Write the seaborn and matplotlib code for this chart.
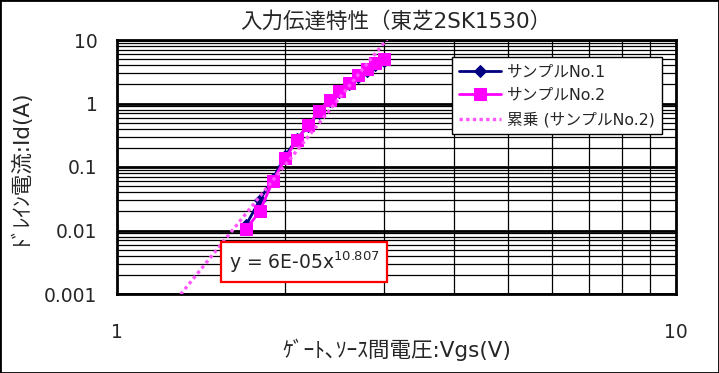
import numpy as np
import pandas as pd
import matplotlib
matplotlib.use("Agg")
import matplotlib.pyplot as plt
import matplotlib.ticker as mticker
import seaborn as sns

# values
vgs = [1.7, 1.8, 1.9, 2.0, 2.1, 2.2, 2.3, 2.4, 2.5, 2.6, 2.7, 2.8, 2.9, 3.0]
id_sample1 = [0.012, 0.03, 0.065, 0.15, 0.28, 0.45, 0.72, 1.1, 1.5, 2.0, 2.6, 3.2, 4.0, 4.6]
id_sample2 = [0.0104, 0.02, 0.06, 0.137, 0.27, 0.46, 0.77, 1.14, 1.6, 2.13, 2.8, 3.45, 4.3, 5.0]
trend_text = "10.807"
x_ticks = [1, 10]
x_tick_labels = ["1", "10"]
y_ticks = [0.001, 0.01, 0.1, 1, 10]
y_tick_labels = ["0.001", "0.01", "0.1", "1", "10"]

sns.set_style("white")
plt.rcParams['font.family'] = ['DejaVu Sans', 'Noto Sans CJK JP']

fig = plt.figure(figsize=(7.19, 3.73), dpi=100)
ax = fig.add_axes([117/719, 1-294/373, 559/719, 254/373])

df = pd.DataFrame({'vgs': vgs, 's1': id_sample1, 's2': id_sample2})

sns.lineplot(data=df, x='vgs', y='s1', ax=ax, color='#000080', marker='D',
             markersize=6, markeredgecolor='#000080', linewidth=2,
             label='サンプルNo.1', zorder=3)
sns.lineplot(data=df, x='vgs', y='s2', ax=ax, color='#ff00ff', marker='s',
             markersize=8.5, markeredgecolor='#ff00ff', linewidth=2,
             label='サンプルNo.2', zorder=4)

# power trendline fitted to sample 2 (as the spreadsheet does)
b, a = np.polyfit(np.log(df['vgs']), np.log(df['s2']), 1)
xt = np.linspace(1.3, 3.4, 200)
ax.plot(xt, np.exp(a) * xt ** b, color='#ff55ff', linestyle=(0, (1, 1)),
        linewidth=2.4, label='累乗 (サンプルNo.2)', zorder=5)

ax.set_xscale('log')
ax.set_yscale('log')
ax.set_xlim(1, 10)
ax.set_ylim(0.001, 10)

ax.xaxis.set_major_locator(mticker.FixedLocator(x_ticks))
ax.xaxis.set_major_formatter(mticker.FixedFormatter(x_tick_labels))
ax.xaxis.set_minor_locator(mticker.LogLocator(subs=np.arange(2, 10)))
ax.xaxis.set_minor_formatter(mticker.NullFormatter())
ax.yaxis.set_major_locator(mticker.FixedLocator(y_ticks))
ax.yaxis.set_major_formatter(mticker.FixedFormatter(y_tick_labels))
ax.yaxis.set_minor_locator(mticker.LogLocator(subs=np.arange(2, 10)))
ax.yaxis.set_minor_formatter(mticker.NullFormatter())

ax.tick_params(which='both', length=0)
ax.tick_params(axis='x', pad=21, labelsize=13.5)
ax.tick_params(axis='y', pad=14, labelsize=13.5)

ax.grid(which='major', axis='y', color='black', linewidth=2)
ax.grid(which='minor', axis='both', color='black', linewidth=0.9)
ax.set_axisbelow(True)
for s in ax.spines.values():
    s.set_color('black')
    s.set_linewidth(2)

ax.set_xlabel('ｹﾞｰﾄ､ｿｰｽ間電圧:Vgs(V)', fontsize=15.5)
ax.set_ylabel('ﾄﾞﾚｲﾝ電流:Id(A)', fontsize=15.5)
ax.xaxis.set_label_coords(0.5, -(339-294)/254)
ax.yaxis.set_label_coords(-(117-31)/559, 0.5)
fig.text(396/719, 1-21/373, '入力伝達特性（東芝2SK1530）', ha='center', va='center',
         fontsize=15.5)

ax.text(0.3345, 0.126, 'y = 6E-05x$^{' + trend_text + '}$', transform=ax.transAxes,
        ha='center', va='center', fontsize=13.5, zorder=6,
        bbox=dict(boxstyle='square,pad=0.4', facecolor='white', edgecolor='red',
                  linewidth=1.6))

leg = ax.legend(loc='upper left', bbox_to_anchor=(0.599, 0.933), fontsize=11.3,
                frameon=True, fancybox=False, framealpha=1, edgecolor='black',
                borderpad=0.45, borderaxespad=0, handlelength=2.7,
                handletextpad=0.35, labelspacing=0.55)
leg.get_frame().set_linewidth(1)
leg.set_zorder(10)

fig.patches.append(plt.Rectangle((0, 0), 1, 1, transform=fig.transFigure,
                                 fill=False, edgecolor='black', linewidth=2))

fig.savefig('out.png', dpi=100)
